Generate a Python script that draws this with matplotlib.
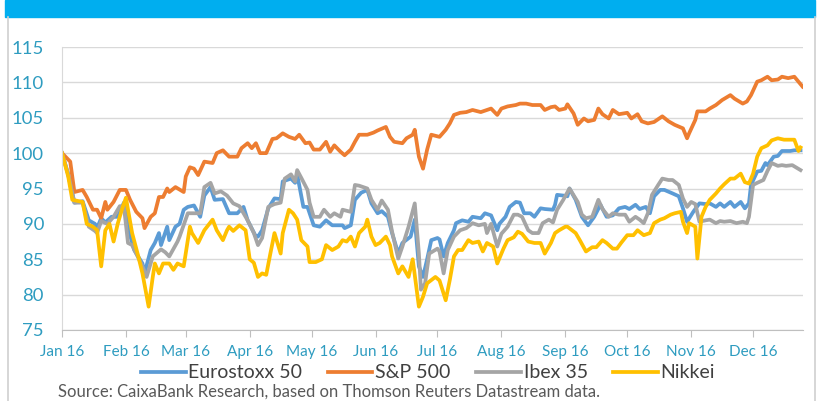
import numpy as np
import pandas as pd
import matplotlib
matplotlib.use("Agg")
import matplotlib.pyplot as plt
import matplotlib.dates as mdates
from matplotlib.patches import Rectangle
from matplotlib.lines import Line2D

plt.rcParams['font.family'] = ['Lato', 'DejaVu Sans']

# Dagen sinds 1 jan 2016 en indexwaarden (1 jan = 100)
eurostoxx_days = [0, 3, 6, 10, 13, 16, 17, 19, 21, 24, 27, 30, 32, 33, 35, 39, 40, 43, 45, 47, 48, 51, 52, 55, 57, 59, 61, 64, 67, 69, 72, 74, 78, 81, 85, 88, 90, 94, 95, 97, 100, 103, 106, 107, 111, 113, 114, 117, 119, 122, 125, 128, 131, 133, 136, 137, 140, 142, 145, 148, 150, 153, 155, 158, 160, 163, 165, 169, 171, 173, 175, 177, 179, 182, 183, 185, 187, 190, 191, 194, 197, 199, 203, 205, 208, 211, 212, 215, 217, 220, 222, 224, 227, 229, 232, 234, 238, 239, 240, 243, 245, 246, 249, 252, 255, 258, 261, 264, 267, 270, 273, 275, 278, 280, 283, 285, 287, 290, 292, 296, 299, 301, 303, 306, 309, 312, 314, 317, 319, 321, 324, 326, 329, 331, 333, 334, 337, 339, 341, 342, 345, 347, 349, 353, 355, 358]
eurostoxx = [100, 97, 93, 93.2, 90.5, 90, 89.4, 90.8, 90.2, 91, 91, 93, 91, 88.4, 86.3, 84.4, 83, 86.3, 87.3, 88.7, 87, 89.6, 87.7, 89.6, 90, 92, 92.4, 92.6, 91, 94, 95.2, 93.4, 93.5, 91.5, 91.5, 92.4, 90.5, 88.2, 88.2, 89.1, 92.2, 93.6, 93.5, 96, 96.4, 95.8, 97, 92.4, 92.4, 89.8, 89.6, 90.5, 89.8, 89.8, 89.8, 89.4, 89.8, 93.4, 94.4, 94.8, 92.9, 91.5, 91.8, 91, 88.7, 85.8, 87.3, 88.2, 90.6, 84, 82.5, 85, 87.7, 88, 87.8, 85.4, 87.3, 89.1, 90.1, 90.5, 90.3, 91, 90.8, 91.5, 91.2, 89.1, 90, 91, 92.4, 93.1, 93, 91.5, 91.5, 91, 92.2, 92.1, 92, 92.7, 94.1, 94, 93.9, 95, 93.4, 91, 89.8, 91, 92.7, 91, 91.2, 92.2, 92.4, 92.1, 92.7, 92.1, 92.4, 91.5, 93.9, 94.8, 94.8, 94.3, 93.9, 92.2, 90.3, 91.7, 92.9, 92.8, 92.9, 92.4, 92.9, 92.4, 93.1, 92.4, 93.1, 92.2, 92.9, 95.5, 97.4, 97.5, 98.6, 98.3, 99.5, 99.6, 100.3, 100.3, 100.4, 100.4]

sp500_days = [0, 4, 6, 10, 12, 15, 17, 19, 21, 22, 25, 28, 31, 33, 36, 39, 40, 43, 45, 47, 49, 51, 52, 55, 59, 60, 62, 64, 66, 69, 73, 75, 78, 81, 85, 87, 90, 92, 94, 96, 99, 102, 104, 107, 110, 113, 115, 118, 120, 122, 125, 128, 130, 132, 135, 137, 140, 142, 144, 148, 151, 153, 157, 159, 161, 165, 167, 170, 171, 173, 175, 177, 179, 183, 186, 188, 190, 193, 196, 199, 203, 206, 208, 211, 213, 216, 220, 222, 225, 228, 232, 234, 237, 239, 241, 244, 245, 248, 250, 253, 255, 258, 260, 262, 265, 267, 270, 274, 276, 279, 281, 284, 287, 291, 294, 297, 301, 303, 304, 307, 308, 312, 314, 317, 320, 324, 326, 330, 332, 334, 337, 339, 342, 344, 347, 349, 352, 355, 357, 359]
sp500 = [100, 98.8, 94.5, 94.8, 93.8, 92, 92, 90.8, 93.1, 92, 93.1, 94.8, 94.8, 93.4, 91.7, 90.8, 89.4, 91, 91.5, 93.8, 93.8, 95, 94.5, 95.2, 94.5, 96.7, 98, 97.8, 96.9, 98.8, 98.6, 100, 100.4, 99.5, 99.5, 100.7, 101.4, 100.7, 101.4, 100, 100, 102, 102.1, 102.8, 102.3, 102, 102.6, 101.4, 101.5, 100.5, 100.5, 101.6, 100.2, 101.1, 100.2, 99.7, 100.5, 101.6, 102.6, 102.6, 102.9, 103.2, 103.7, 102.3, 101.6, 101.4, 102.1, 102.6, 103.3, 99.5, 97.8, 100.5, 102.6, 102.3, 103.3, 104.2, 105.4, 105.7, 105.8, 106.1, 105.8, 106.1, 106.3, 105.4, 106.3, 106.6, 106.8, 107, 107, 106.8, 106.8, 106.1, 106.5, 106.6, 106.1, 106.3, 106.9, 105.6, 104, 104.9, 104.5, 104.7, 106.3, 105.5, 104.9, 106.1, 105.5, 105.7, 104.9, 105.5, 104.5, 104.2, 104.4, 105.2, 104.5, 104, 103.5, 102.1, 102.8, 104.7, 105.9, 105.9, 106.3, 106.8, 107.5, 108.2, 107.7, 107, 107.3, 108.2, 110.1, 110.3, 110.8, 110.3, 110.4, 110.8, 110.6, 110.8, 110.1, 109.4]

ibex_days = [0, 3, 6, 10, 13, 16, 17, 19, 22, 25, 28, 30, 32, 34, 39, 41, 44, 48, 50, 52, 56, 57, 61, 64, 67, 69, 72, 74, 77, 80, 83, 86, 89, 90, 93, 95, 97, 100, 103, 106, 108, 111, 113, 114, 116, 119, 120, 122, 125, 127, 130, 132, 135, 136, 140, 142, 144, 148, 150, 153, 155, 158, 160, 163, 165, 168, 171, 173, 174, 176, 178, 182, 183, 185, 187, 190, 193, 196, 199, 202, 205, 206, 208, 211, 213, 216, 219, 221, 223, 226, 228, 231, 233, 236, 238, 240, 243, 246, 250, 252, 254, 257, 260, 262, 265, 267, 270, 273, 275, 278, 280, 282, 284, 286, 289, 291, 294, 296, 299, 301, 303, 305, 307, 309, 312, 314, 317, 319, 321, 324, 327, 330, 332, 333, 335, 337, 340, 342, 344, 347, 349, 351, 354, 358]
ibex = [100, 97, 93, 93, 89.6, 89, 88.7, 90.4, 90, 91, 92.5, 92.5, 87.3, 87, 84, 82.5, 85.4, 86.4, 86, 85.4, 87.5, 88.2, 91.5, 91.5, 91.5, 95.2, 95.8, 94.3, 94.6, 94, 92.9, 92.5, 91, 90.5, 88.7, 87, 88, 92.4, 92.8, 93, 96.4, 97, 96, 97.6, 96.5, 94.8, 93, 91, 91, 92, 91, 91.5, 91, 92, 91.7, 95.5, 95.4, 95, 93.4, 92, 93.3, 92, 88.9, 85.1, 86.8, 89.6, 92.9, 85.8, 80.7, 81.6, 85.8, 86.5, 86.1, 83, 86.3, 88.2, 89.1, 89.4, 90.1, 89.8, 90, 88.7, 90, 86.8, 88.6, 89.6, 91.3, 91.3, 91, 89.1, 88.7, 88.7, 90.1, 90.6, 90.2, 92, 93.4, 95, 93.1, 91.3, 90.8, 91, 93.4, 92.1, 91, 91.5, 91.3, 91.3, 90.3, 91, 90.6, 90.1, 91.5, 94.1, 95.5, 96.4, 96.2, 96.2, 95.5, 93.6, 92.4, 93.1, 92.8, 90.3, 90.5, 90.6, 90.1, 90.4, 90.3, 90.4, 90.1, 90.3, 90.1, 91, 95.5, 95.8, 96.2, 97.5, 98.6, 98.2, 98.3, 98.2, 98.3, 97.6]

nikkei_days = [0, 3, 5, 10, 12, 15, 17, 19, 21, 23, 25, 27, 29, 31, 32, 34, 37, 39, 42, 44, 45, 47, 49, 52, 54, 56, 59, 61, 62, 63, 66, 69, 73, 75, 78, 80, 81, 83, 86, 89, 91, 93, 95, 97, 99, 101, 103, 106, 107, 110, 112, 114, 116, 119, 120, 123, 126, 128, 131, 134, 136, 138, 140, 142, 144, 147, 148, 150, 152, 154, 157, 159, 160, 163, 165, 168, 170, 173, 175, 177, 181, 183, 186, 188, 190, 192, 194, 197, 199, 202, 204, 206, 209, 211, 214, 216, 219, 221, 223, 226, 229, 232, 234, 237, 239, 241, 244, 245, 249, 251, 254, 257, 259, 262, 264, 267, 269, 271, 274, 277, 279, 282, 285, 287, 290, 292, 295, 297, 300, 301, 303, 304, 307, 308, 310, 312, 314, 317, 319, 321, 324, 326, 329, 331, 333, 335, 337, 339, 342, 344, 347, 350, 353, 355, 357, 358]
nikkei = [100, 96.7, 93.4, 93.1, 90, 89.6, 89.1, 84, 89.1, 90, 87.5, 90, 92, 93.7, 92, 88.7, 85.4, 83, 78.3, 82.5, 84.4, 83, 84.4, 84.4, 83.5, 84.4, 84, 87.7, 89.6, 88.7, 87.3, 89.1, 90.6, 89.1, 87.7, 89.1, 89.6, 89, 89.8, 89.1, 85, 84.5, 82.5, 83, 82.8, 85.8, 88.7, 85.8, 88.7, 92, 91.5, 90.6, 87.7, 86.8, 84.6, 84.6, 85, 87, 86.3, 86.8, 87.7, 87.5, 88.2, 86.8, 88.7, 89.6, 90.6, 88.2, 87, 87.3, 88.2, 87, 85.4, 83, 84, 82.5, 85, 78.3, 79.7, 81.6, 82.5, 82, 79.2, 82.1, 85.4, 86.3, 86.3, 87.7, 87.3, 87.5, 86.1, 87.3, 86.8, 84.4, 86.5, 87.7, 88.1, 88.9, 88.6, 87.5, 87.3, 87.3, 85.8, 87.3, 88.7, 89.1, 89.6, 89.6, 88.7, 87.7, 86.1, 86.7, 86.7, 87.7, 87.3, 86.5, 86.5, 87.3, 88.4, 88.4, 89.1, 88.4, 88.7, 90.1, 90.6, 90.8, 91.3, 91.5, 91.7, 90.3, 88.7, 90.1, 89.6, 85.1, 91, 92.4, 93.4, 94.3, 95, 95.6, 96.4, 96.4, 97.1, 95.9, 95.7, 97.1, 99.5, 100.7, 101.1, 101.8, 102.1, 101.9, 101.9, 101.9, 100.3, 100.8]

series_names = ["Eurostoxx 50", "S&P 500", "Ibex 35", "Nikkei"]
series_colors = ["#5B9BD5", "#ED7D31", "#A5A5A5", "#FFC000"]

START = pd.Timestamp("2016-01-01")


def to_dates(days):
    return START + pd.to_timedelta(days, unit="D")


TEXT_BLUE = "#2E9CC0"

fig = plt.figure(figsize=(8.19, 4.01), dpi=100)

# blauwe band bovenaan + kader
fig.patches.append(Rectangle((5 / 819, 1 - 17 / 401), 810 / 819, 17 / 401,
                             transform=fig.transFigure, color="#00AEEF", zorder=0))
fig.lines.append(Line2D([8 / 819, 8 / 819], [0, 1 - 17 / 401], transform=fig.transFigure,
                        color="#D0D0D0", lw=1.2))
fig.lines.append(Line2D([815 / 819, 815 / 819], [0, 1 - 17 / 401], transform=fig.transFigure,
                        color="#D0D0D0", lw=1.2))

ax = fig.add_axes([62 / 819, 1 - 330 / 401, 741 / 819, 283 / 401])

all_days = [eurostoxx_days, sp500_days, ibex_days, nikkei_days]
all_vals = [eurostoxx, sp500, ibex, nikkei]
for d, v, name, col in zip(all_days, all_vals, series_names, series_colors):
    ax.plot(to_dates(d), v, color=col, lw=2.7, label=name, solid_joinstyle="round")

ax.set_ylim(75, 115)
ax.set_yticks(np.arange(75, 116, 5))
ax.set_xlim(START, START + pd.Timedelta(days=359.2))
ax.xaxis.set_major_locator(mdates.MonthLocator())
ax.xaxis.set_major_formatter(mdates.DateFormatter("%b %y"))

ax.grid(axis="y", color="#D9D9D9", lw=1)
ax.set_axisbelow(True)
for s in ["top", "right"]:
    ax.spines[s].set_visible(False)
ax.spines["left"].set_color("#D9D9D9")
ax.spines["bottom"].set_color("#BFBFBF")
ax.tick_params(axis="y", length=0, labelsize=13.3, labelcolor=TEXT_BLUE, pad=13)
ax.tick_params(axis="x", length=5, color="#BFBFBF", labelsize=11, labelcolor=TEXT_BLUE, pad=6)

fig.legend(loc="center", bbox_to_anchor=(428 / 819, 1 - 373 / 401), ncol=4, frameon=False,
           fontsize=14, handlelength=2.3, handletextpad=0.15, columnspacing=1.3,
           labelcolor="#404040")

fig.text(58 / 819, 1 - 392 / 401, "Source: CaixaBank Research, based on Thomson Reuters Datastream data.",
         fontsize=12, color="#595959", va="center", ha="left")

fig.savefig("out.png", dpi=100)
